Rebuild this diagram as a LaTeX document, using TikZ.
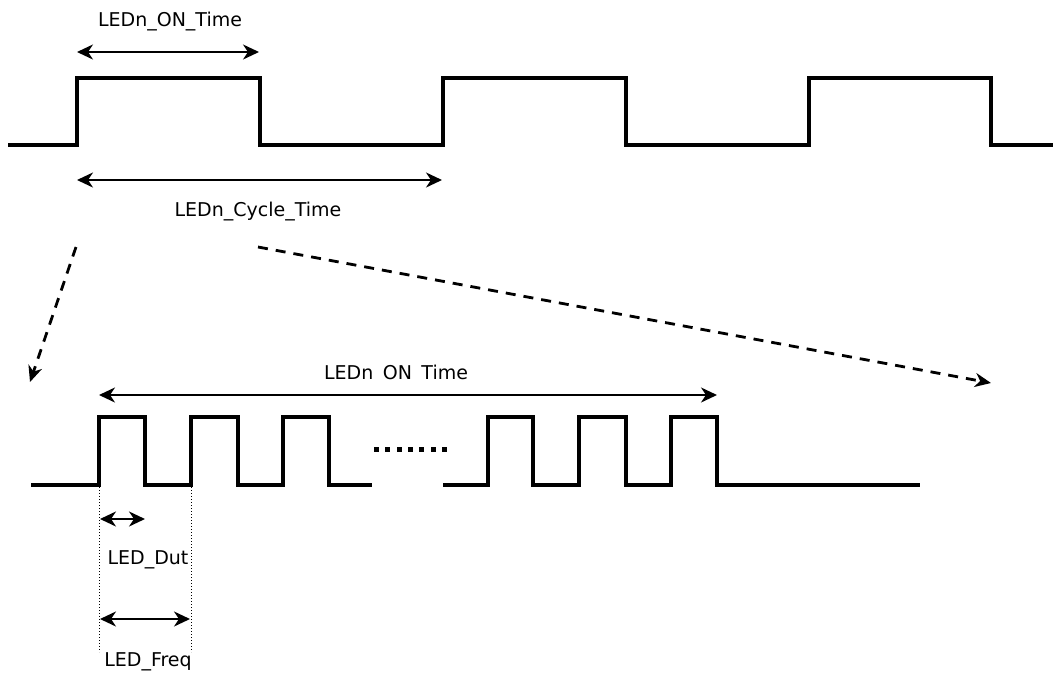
\documentclass[tikz,border=0pt]{standalone}
\usepackage{fontspec}
\setmainfont{DejaVu Sans}
\usetikzlibrary{arrows.meta}
\begin{document}
\begin{tikzpicture}[x=1pt,y=-1pt,
  wave/.style={line width=3.6pt,line join=miter},
  dim/.style={line width=2.3pt,{Stealth[length=16pt,width=15pt,inset=5pt]}-{Stealth[length=16pt,width=15pt,inset=5pt]}},
  zoomarrow/.style={line width=2.8pt,dash pattern=on 10pt off 8pt,-{Stealth[length=16pt,width=14pt,inset=5pt]}},
  guide/.style={line width=1pt,dash pattern=on 1pt off 2pt},
  lbl/.style={font=\fontsize{19}{22}\selectfont,inner sep=0pt}]
\useasboundingbox (0,0) rectangle (1053,675);
% top waveform
\draw[wave] (8,145) -- (77,145) -- (77,78) -- (260,78) -- (260,145) -- (443,145) -- (443,78)
  -- (626,78) -- (626,145) -- (809,145) -- (809,78) -- (991,78) -- (991,145) -- (1053,145);
% top dimension arrows
\coordinate (onA) at (77,52); \coordinate (onB) at (259,52);
\draw[dim] (onA) -- (onB);
\node[lbl] (onlbl) at (170,22) {LEDn\_ON\_Time};
\coordinate (cyA) at (77,180); \coordinate (cyB) at (442,180);
\draw[dim] (cyA) -- (cyB);
\node[lbl] (cylbl) at (258,212) {LEDn\_Cycle\_Time};
% zoom arrows
\coordinate (zl1) at (76,247); \coordinate (zl2) at (30,382);
\draw[zoomarrow] (zl1) -- (zl2);
\coordinate (zr1) at (258,247); \coordinate (zr2) at (991,383);
\draw[zoomarrow] (zr1) -- (zr2);
% bottom waveform
\draw[wave] (31,485) -- (99,485) -- (99,417) -- (145,417) -- (145,485) -- (191,485) -- (191,417)
  -- (238,417) -- (238,485) -- (283,485) -- (283,417) -- (329,417) -- (329,485) -- (372,485);
\draw[wave] (443,485) -- (488,485) -- (488,417) -- (533,417) -- (533,485) -- (579,485) -- (579,417)
  -- (626,417) -- (626,485) -- (671,485) -- (671,417) -- (717,417) -- (717,485) -- (920,485);
% dots
\foreach \i in {0,...,6} \fill (374+\i*11.3,447) rectangle ++(5,5);
% bottom ON time arrow
\coordinate (bA) at (99,395); \coordinate (bB) at (717,395);
\draw[dim] (bA) -- (bB);
\node[lbl] (blbl) at (396,375) {LEDn\phantom{\_}ON\phantom{\_}Time};
% guides
\coordinate (g1a) at (99,487); \coordinate (g1b) at (99,652);
\coordinate (g2a) at (191,487); \coordinate (g2b) at (191,652);
\draw[guide] (g1a) -- (g1b);
\draw[guide] (g2a) -- (g2b);
% duty and freq
\coordinate (dA) at (100,519); \coordinate (dB) at (145,519);
\draw[dim] (dA) -- (dB);
\node[lbl] (dlbl) at (148,560) {LED\_Dut};
\coordinate (fA) at (100,619); \coordinate (fB) at (190,619);
\draw[dim] (fA) -- (fB);
\node[lbl] (flbl) at (148,662) {LED\_Freq};
\end{tikzpicture}
\end{document}
